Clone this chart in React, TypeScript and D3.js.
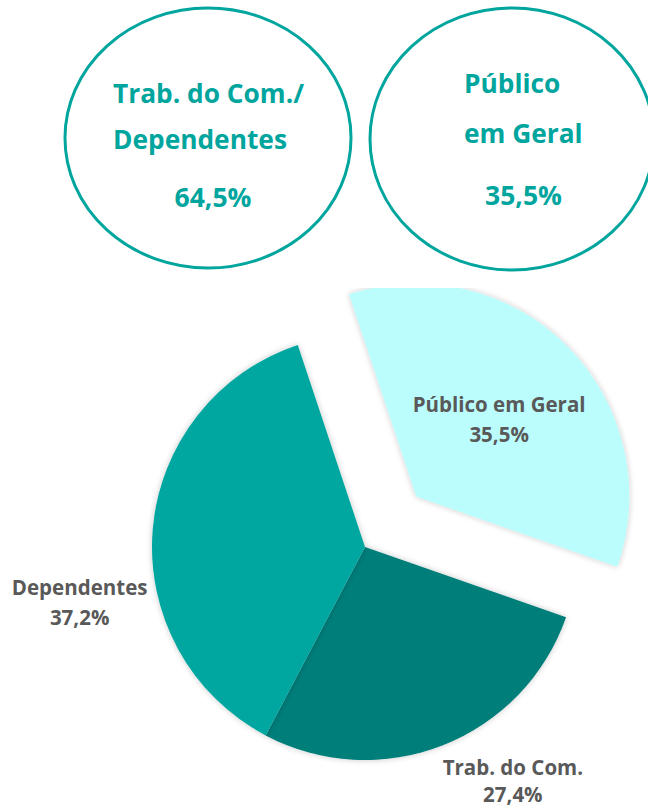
import React from "react";
import * as d3 from "d3";

// ---- data ----
const categories = ["Público em Geral", "Trab. do Com.", "Dependentes"];
const values = [35.5, 27.4, 37.2];
const valueLabels = ["35,5%", "27,4%", "37,2%"];
const sliceColors = ["#BBFDFC", "#007E7A", "#00A6A0"];
const explode = [true, false, false];

const groupLines = [["Trab. do Com./", "Dependentes"], ["Público", "em Geral"]];
const groupValues = ["64,5%", "35,5%"];

// ---- layout ----
const W = 648;
const H = 808;
const CX = 365;
const CY = 547;
const R = 213;
const START = (-18.4 * Math.PI) / 180;
const EXPLODE_DIST = 72;
// label placement (angle in degrees from top, radius from slice centre, line gap)
const labelPlace = [
  { angle: 47.7, radius: 112, gap: 30 },
  { angle: 148, radius: 279, gap: 27 },
  { angle: 258.7, radius: 291, gap: 30 },
];

const ellipses = [
  { cx: 208, cy: 138, rx: 143, ry: 130, lineX: 113, lineY: [103, 149], valX: 213, valY: 207 },
  { cx: 512, cy: 139, rx: 142, ry: 131, lineX: 464, lineY: [93, 143], valX: 523.5, valY: 205 },
];

const FONT = "'Open Sans', Lato, sans-serif";
const TEAL = "#00A59E";

export default function App() {
  const pie = d3
    .pie<number>()
    .sort(null)
    .startAngle(START)
    .endAngle(START + 2 * Math.PI)(values);
  const arc = d3.arc<d3.PieArcDatum<number>>().innerRadius(0).outerRadius(R);

  return (
    <svg
      width={W}
      height={H}
      style={{ position: "absolute", left: 0, top: 0, background: "#fff" }}
    >
      <defs>
        <clipPath id="plotClip">
          <rect x={0} y={288} width={W} height={H - 288} />
        </clipPath>
        <filter id="shadow" x="-20%" y="-20%" width="140%" height="140%">
          <feGaussianBlur in="SourceAlpha" stdDeviation="3" />
          <feComponentTransfer>
            <feFuncA type="linear" slope="0.22" />
          </feComponentTransfer>
          <feMerge>
            <feMergeNode />
            <feMergeNode in="SourceGraphic" />
          </feMerge>
        </filter>
      </defs>

      {ellipses.map((e, i) => (
        <g key={i}>
          <ellipse cx={e.cx} cy={e.cy} rx={e.rx} ry={e.ry} fill="none" stroke={TEAL} strokeWidth={3} />
          {groupLines[i].map((t, j) => (
            <text
              key={j}
              x={e.lineX}
              y={e.lineY[j]}
              fill={TEAL}
              fontFamily={FONT}
              fontWeight={700}
              fontSize={26.3}
            >
              {t}
            </text>
          ))}
          <text
            x={e.valX}
            y={e.valY}
            textAnchor="middle"
            fill={TEAL}
            fontFamily={FONT}
            fontWeight={700}
            fontSize={26.5}
          >
            {groupValues[i]}
          </text>
        </g>
      ))}

      <g clipPath="url(#plotClip)">
        {pie.map((d, i) => {
          const mid = (d.startAngle + d.endAngle) / 2;
          const off = explode[i] ? EXPLODE_DIST : 0;
          const ox = CX + off * Math.sin(mid);
          const oy = CY - off * Math.cos(mid);
          return (
            <path
              key={i}
              d={arc(d) || ""}
              transform={`translate(${ox},${oy})`}
              fill={sliceColors[i]}
              filter="url(#shadow)"
            />
          );
        })}
      </g>

      {pie.map((d, i) => {
        const mid = (d.startAngle + d.endAngle) / 2;
        const off = explode[i] ? EXPLODE_DIST : 0;
        const ox = CX + off * Math.sin(mid);
        const oy = CY - off * Math.cos(mid);
        const p = labelPlace[i];
        const a = (p.angle * Math.PI) / 180;
        const lx = ox + p.radius * Math.sin(a);
        const ly = oy - p.radius * Math.cos(a);
        return (
          <text
            key={i}
            x={lx}
            y={ly}
            textAnchor="middle"
            fill="#595959"
            fontFamily={FONT}
            fontWeight={700}
            fontSize={20.5}
          >
            <tspan x={lx} dy={-9}>{categories[i]}</tspan>
            <tspan x={lx} dy={p.gap}>{valueLabels[i]}</tspan>
          </text>
        );
      })}
    </svg>
  );
}
